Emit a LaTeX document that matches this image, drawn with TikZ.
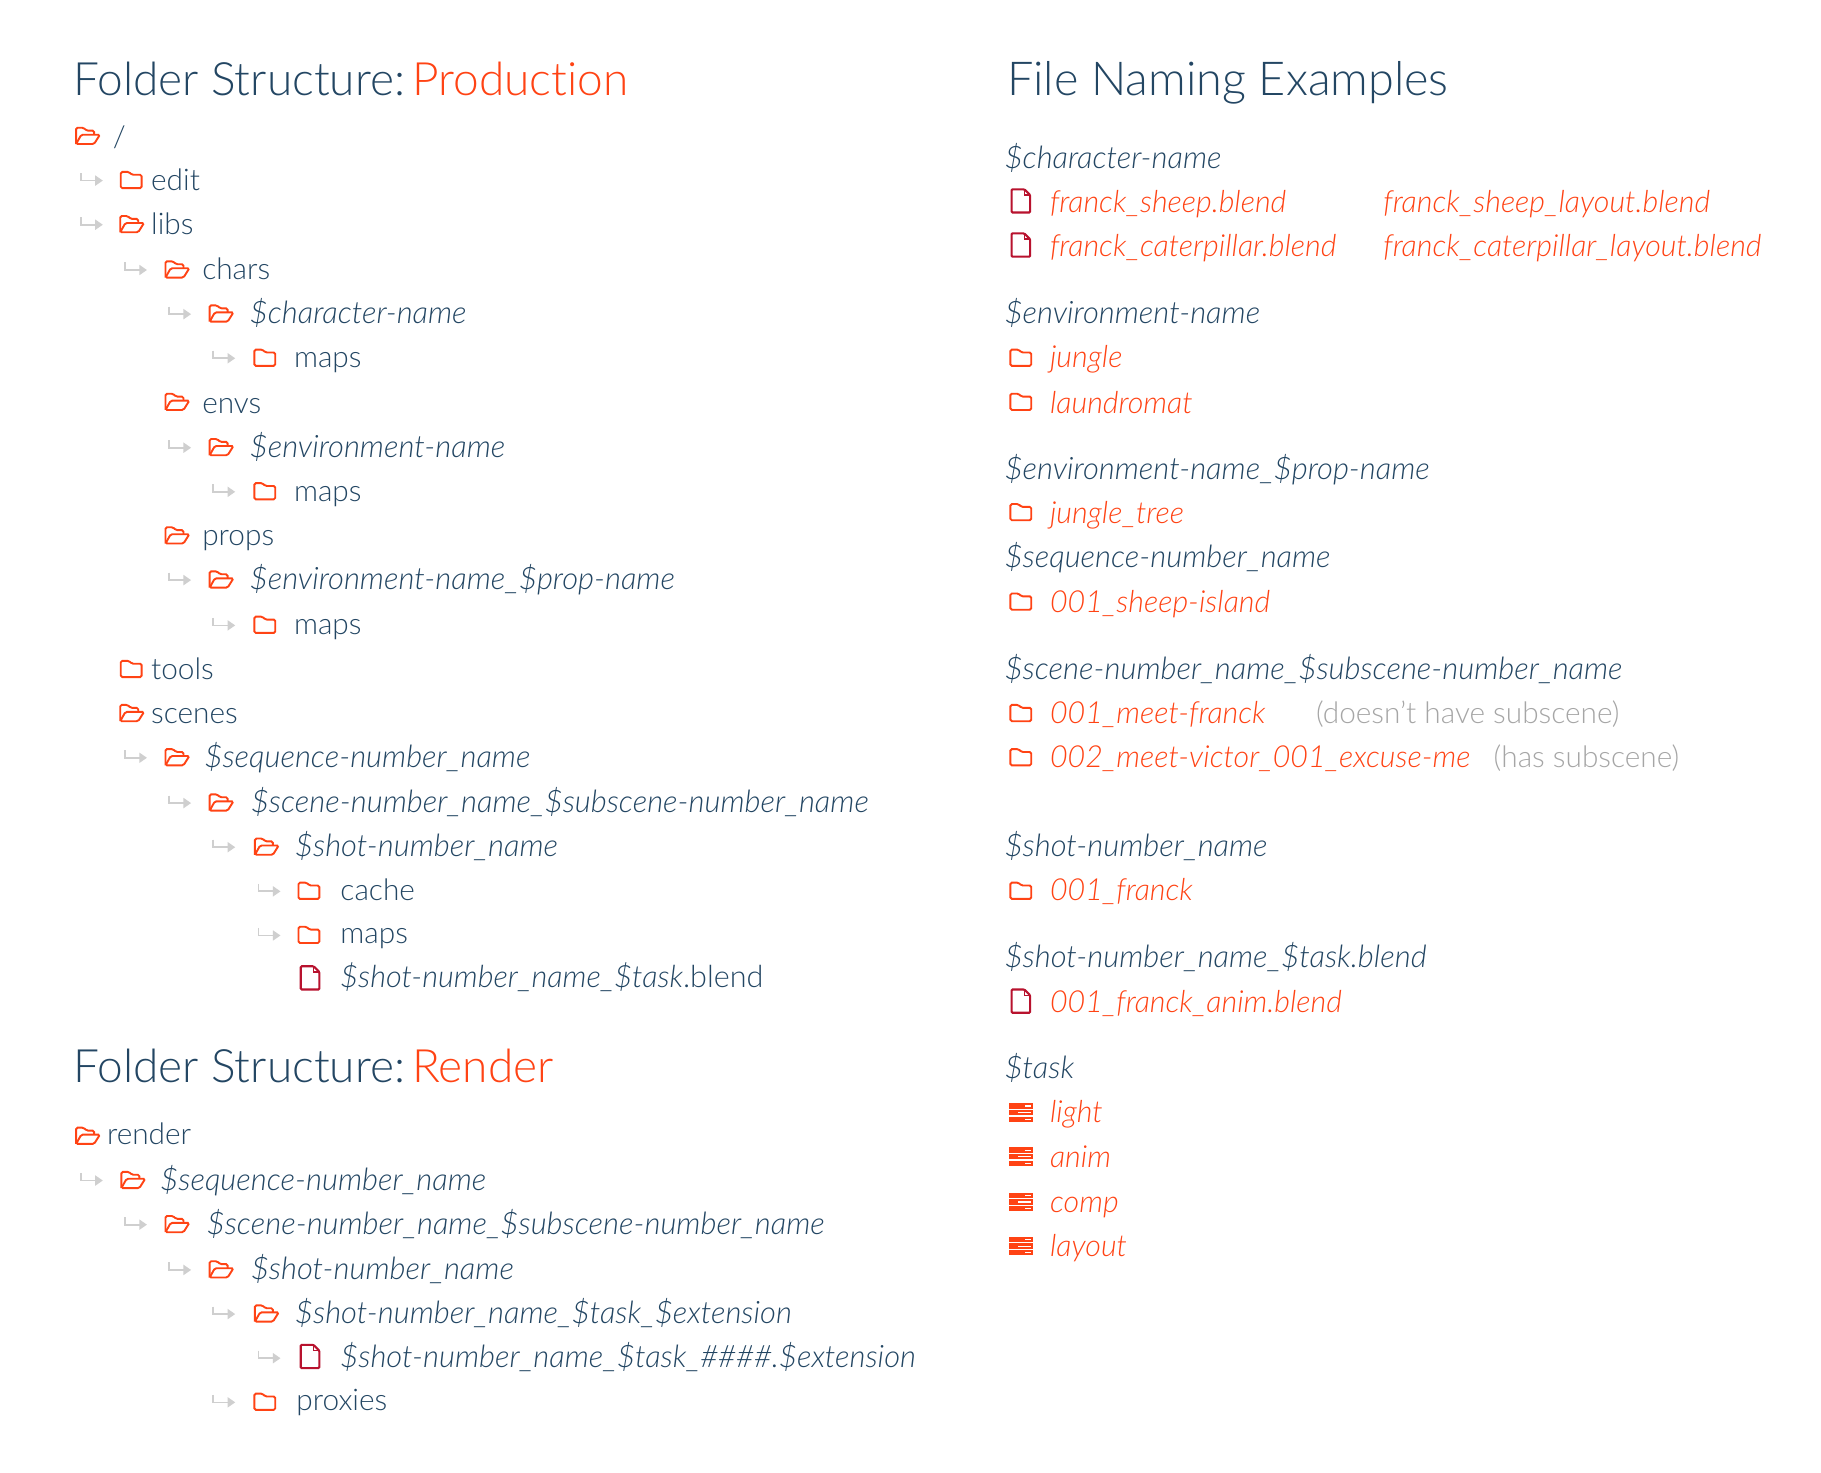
\documentclass[tikz,border=0pt]{standalone}
\usepackage{fontspec}
\setmainfont{Lato}[UprightFont=* Light,ItalicFont=* Light Italic,Ligatures=NoCommon]
\definecolor{inkblue}{HTML}{234663}
\definecolor{accent}{HTML}{FF4314}
\definecolor{filered}{HTML}{B8122E}
\definecolor{hookgray}{HTML}{CFCFCF}
\definecolor{notegray}{HTML}{A6A6A6}
\tikzset{
	row/.style={anchor=west,inner sep=0pt,text height=28.5pt,text depth=6pt,text=inkblue,font=\fontsize{29.8}{32}\selectfont},
	var/.style={row,font=\fontsize{30.9}{32}\selectfont\itshape},
	hit/.style={var,text=accent,font=\fontsize{30.4}{32}\selectfont\itshape},
	note/.style={row,text=notegray},
	heading/.style={anchor=base west,inner sep=0pt,text=inkblue,font=\fontsize{46}{54}\selectfont},
	hookarrow/.pic={
		\draw[hookgray,line width=1.7pt] (-9.5,-6) -- (-9.5,0.5) -- (4,0.5);
		\fill[hookgray] (3,-4) -- (9.5,0.5) -- (3,5) -- cycle;
	},
	folderclosed/.pic={
		\draw[accent,line width=1.9pt,rounded corners=1.5pt] (-9,-7) -- (-2,-7) -- (0.5,-4.5) -- (9,-4.5) -- (9,7) -- (-9,7) -- cycle;
	},
	folderopen/.pic={
		\draw[accent,line width=1.9pt,rounded corners=1.5pt] (-9.5,7) -- (-9.5,-7) -- (-3,-7) -- (-0.5,-4.5) -- (6,-4.5) -- (6,-1);
		\draw[accent,line width=1.9pt,rounded corners=1.5pt] (-9.5,7) -- (-5,-1) -- (11,-1) -- (6,7) -- cycle;
	},
	fileicon/.pic={
		\draw[filered,line width=2.1pt,rounded corners=1pt] (-8,-10) -- (3,-10) -- (8,-5) -- (8,10) -- (-8,10) -- cycle;
		\draw[filered,line width=1.5pt] (3,-10) -- (3,-5) -- (8,-5);
	},
	taskicon/.pic={
		\fill[accent] (-10.5,-8) rectangle (10.5,-3.4);
		\fill[accent] (-10.5,-2.3) rectangle (10.5,2.3);
		\fill[accent] (-10.5,3.4) rectangle (10.5,8);
		\fill[white] (3.5,-6.2) rectangle (8.5,-5.2);
		\fill[white] (-2.5,-0.5) rectangle (8.5,0.5);
		\fill[white] (3.5,5.2) rectangle (8.5,6.2);
	},
}
\begin{document}
\begin{tikzpicture}[x=1.1614pt,y=-1.1614pt]
	\useasboundingbox[fill=white] (0,0) rectangle (1568,1268);
	% production tree
	\node[heading] (prodtitle) at (63,82.5) {Folder Structure:\kern-5pt\ \textcolor{accent}{Production}};
	\pic at (75,117) {folderopen};
	\node[row] (root) at (97,117) {/};
	\pic at (79,155) {hookarrow};
	\pic at (113,155) {folderclosed};
	\node[row] (edit) at (130,154) {edit};
	\pic at (79,193) {hookarrow};
	\pic at (113,193) {folderopen};
	\node[row] (libs) at (130,192) {libs};
	\pic at (117,232) {hookarrow};
	\pic at (152,232) {folderopen};
	\node[row] (chars) at (174,231) {chars};
	\pic at (155,270) {hookarrow};
	\pic at (190,270) {folderopen};
	\node[var] (charname) at (215,269) {\$character-name};
	\pic at (193,308) {hookarrow};
	\pic at (228,308) {folderclosed};
	\node[row] (charmaps) at (253,307) {maps};
	\pic at (152,346) {folderopen};
	\node[row] (envs) at (174,346) {envs};
	\pic at (155,385) {hookarrow};
	\pic at (190,385) {folderopen};
	\node[var] (envname) at (215,384) {\$environment-name};
	\pic at (193,423) {hookarrow};
	\pic at (228,423) {folderclosed};
	\node[row] (envmaps) at (253,422) {maps};
	\pic at (152,461) {folderopen};
	\node[row] (props) at (174,460) {props};
	\pic at (155,499) {hookarrow};
	\pic at (190,499) {folderopen};
	\node[var] (propname) at (215,498) {\$environment-name\_\$prop-name};
	\pic at (193,538) {hookarrow};
	\pic at (228,538) {folderclosed};
	\node[row] (propmaps) at (253,537) {maps};
	\pic at (113,576) {folderclosed};
	\node[row] (tools) at (130,575) {tools};
	\pic at (113,614) {folderopen};
	\node[row] (scenes) at (130,613) {scenes};
	\pic at (117,652) {hookarrow};
	\pic at (152,652) {folderopen};
	\node[var] (seqname) at (176,651) {\$sequence-number\_name};
	\pic at (155,691) {hookarrow};
	\pic at (190,691) {folderopen};
	\node[var] (scenename) at (216,690) {\$scene-number\_name\_\$subscene-number\_name};
	\pic at (193,729) {hookarrow};
	\pic at (229,729) {folderopen};
	\node[var] (shotname) at (254,728) {\$shot-number\_name};
	\pic at (232,767) {hookarrow};
	\pic at (266,767) {folderclosed};
	\node[row] (cache) at (293,766) {cache};
	\pic at (232,805) {hookarrow};
	\pic at (266,805) {folderclosed};
	\node[row] (shotmaps) at (293,803) {maps};
	\pic at (267,842) {fileicon};
	\node[row] (shotfile) at (293,841) {\fontsize{30.6}{32}\selectfont\textit{\$shot-number\_name\_\$task}.blend};
	% render tree
	\node[heading] (rendertitle) at (63,932.5) {Folder Structure:\kern-5pt\ \textcolor{accent}{Render}};
	\pic at (75,978) {folderopen};
	\node[row] (render) at (92,976) {render};
	\pic at (79,1016) {hookarrow};
	\pic at (114,1016) {folderopen};
	\node[var] (rseq) at (138,1015) {\$sequence-number\_name};
	\pic at (117,1054) {hookarrow};
	\pic at (152,1054) {folderopen};
	\node[var] (rscene) at (178,1053) {\$scene-number\_name\_\$subscene-number\_name};
	\pic at (155,1093) {hookarrow};
	\pic at (190,1093) {folderopen};
	\node[var] (rshot) at (216,1092) {\$shot-number\_name};
	\pic at (193,1131) {hookarrow};
	\pic at (229,1131) {folderopen};
	\node[var] (rtask) at (254,1130) {\$shot-number\_name\_\$task\_\$extension};
	\pic at (232,1169) {hookarrow};
	\pic at (267,1168) {fileicon};
	\node[var] (rframes) at (293,1168) {\$shot-number\_name\_\$task\_\#\#\#\#.\$extension};
	\pic at (193,1207) {hookarrow};
	\pic at (228,1207) {folderclosed};
	\node[row] (proxies) at (255,1205) {proxies};
	% naming examples
	\node[heading,font=\fontsize{46.8}{54}\selectfont] (nametitle) at (867,82.5) {File Naming Examples};
	\node[var] (charhead) at (865,135) {\$character-name};
	\pic at (879,173) {fileicon};
	\node[hit] (sheep) at (904,173) {franck\_sheep.blend};
	\node[hit] (sheeplayout) at (1191,173) {franck\_sheep\_layout.blend};
	\pic at (879,211) {fileicon};
	\node[hit] (cat) at (904,211) {franck\_caterpillar.blend};
	\node[hit] (catlayout) at (1191,211) {franck\_caterpillar\_layout.blend};
	\node[var] (envhead) at (865,269) {\$environment-name};
	\pic at (879,308) {folderclosed};
	\node[hit] (jungle) at (904,307) {jungle};
	\pic at (879,346) {folderclosed};
	\node[hit] (laundromat) at (904,346) {laundromat};
	\node[var] (prophead) at (865,403) {\$environment-name\_\$prop-name};
	\pic at (879,441) {folderclosed};
	\node[hit] (tree) at (904,441) {jungle\_tree};
	\node[var] (seqhead) at (865,479) {\$sequence-number\_name};
	\pic at (879,518) {folderclosed};
	\node[hit] (island) at (904,518) {001\_sheep-island};
	\node[var] (scenehead) at (865,575) {\$scene-number\_name\_\$subscene-number\_name};
	\pic at (879,614) {folderclosed};
	\node[hit] (meet) at (904,613) {001\_meet-franck};
	\node[note] (nosub) at (1133,613) {(doesn't have subscene)};
	\pic at (879,652) {folderclosed};
	\node[hit] (victor) at (904,651) {002\_meet-victor\_001\_excuse-me};
	\node[note] (hassub) at (1286,651) {(has subscene)};
	\node[var] (shothead) at (865,728) {\$shot-number\_name};
	\pic at (879,767) {folderclosed};
	\node[hit] (franck) at (904,766) {001\_franck};
	\node[var] (filehead) at (865,823) {\$shot-number\_name\_\$task.blend};
	\pic at (879,862) {fileicon};
	\node[hit] (anim) at (904,862) {001\_franck\_anim.blend};
	\node[var] (taskhead) at (865,919) {\$task};
	\pic at (879,958) {taskicon};
	\node[hit] (light) at (904,957) {light};
	\pic at (879,996) {taskicon};
	\node[hit] (animtask) at (904,996) {anim};
	\pic at (879,1035) {taskicon};
	\node[hit] (comp) at (904,1034) {comp};
	\pic at (879,1073) {taskicon};
	\node[hit] (layout) at (904,1072) {layout};
\end{tikzpicture}
\end{document}
